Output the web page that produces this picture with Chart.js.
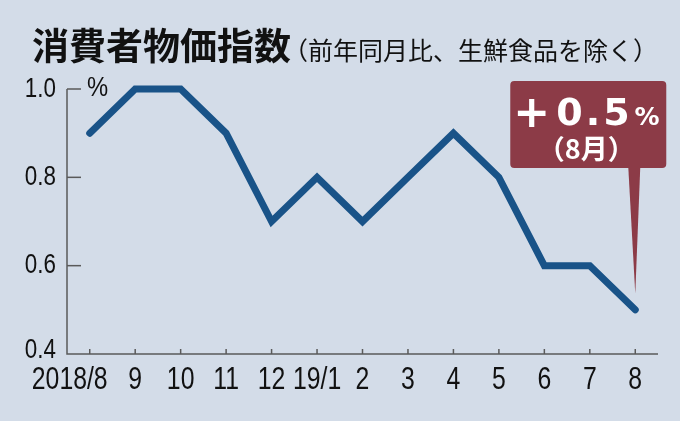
<!DOCTYPE html>
<html>
<head>
<meta charset="utf-8">
<script src="https://cdn.jsdelivr.net/npm/chart.js@4"></script>
<style>
  html, body { margin: 0; padding: 0; background: #d3dce8; }
  #wrap { width: 680px; height: 421px; position: relative; }
</style>
</head>
<body>
<div id="wrap"><canvas id="cpiChart"></canvas></div>
<script>
// データ
const months = ['2018/8', '9', '10', '11', '12', '19/1', '2', '3', '4', '5', '6', '7', '8'];
const cpiValues = [0.9, 1.0, 1.0, 0.9, 0.7, 0.8, 0.7, 0.8, 0.9, 0.8, 0.6, 0.6, 0.5];
const yTickValues = [0.4, 0.6, 0.8, 1.0];
const titleMain = '消費者物価指数';
const titleSub = '（前年同月比、生鮮食品を除く）';
const calloutSign = '+';
const calloutValue = '0.5';
const calloutMonth = '（8月）';

const AXIS_COLOR = '#5a5a5a';
const SANS = '"Liberation Sans", Arial, sans-serif';
const JP = '"Noto Sans CJK JP", sans-serif';

// 横に詰めた文字(長体)
function condensedText(ctx, text, x, y, align, sx) {
  ctx.save();
  ctx.translate(x, y);
  ctx.scale(sx, 1);
  ctx.textAlign = align;
  ctx.fillText(text, 0, 0);
  ctx.restore();
}

// 軸・目盛りは自前で描く(内向きの目盛り)
const axisPlugin = {
  id: 'axisPlugin',
  beforeDatasetsDraw(chart) {
    const { ctx, chartArea, scales: { x, y } } = chart;
    ctx.save();
    ctx.strokeStyle = AXIS_COLOR;
    ctx.lineWidth = 1.5;
    ctx.beginPath();
    ctx.moveTo(chartArea.left, y.getPixelForValue(yTickValues[yTickValues.length - 1]));
    ctx.lineTo(chartArea.left, chartArea.bottom);
    ctx.lineTo(chartArea.right, chartArea.bottom);
    ctx.stroke();
    // y目盛り
    ctx.fillStyle = '#111';
    ctx.font = '28px ' + SANS;
    ctx.textBaseline = 'middle';
    yTickValues.forEach((v, i) => {
      const py = y.getPixelForValue(v);
      if (i > 0) {
        ctx.beginPath();
        ctx.moveTo(chartArea.left, py);
        ctx.lineTo(chartArea.left + 14, py);
        ctx.stroke();
      }
      condensedText(ctx, v.toFixed(1), chartArea.left - 11, i === 0 ? py - 4 : py, 'right', 0.8);
    });
    condensedText(ctx, '%', chartArea.left + 20, y.getPixelForValue(1.0) - 1, 'left', 0.85);
    // x目盛り
    ctx.font = '31px ' + SANS;
    ctx.textBaseline = 'top';
    months.forEach((m, i) => {
      const px = x.getPixelForValue(i);
      ctx.beginPath();
      ctx.moveTo(px, chartArea.bottom);
      ctx.lineTo(px, chartArea.bottom - 5);
      ctx.stroke();
      const tx = i === 0 ? px - 20 : px;
      condensedText(ctx, m, tx, chartArea.bottom + 11, 'center', 0.8);
    });
    ctx.restore();
  },
  afterDraw(chart) {
    const { ctx, chartArea } = chart;
    ctx.save();
    // タイトル
    ctx.fillStyle = '#111';
    ctx.textBaseline = 'middle';
    ctx.textAlign = 'left';
    ctx.font = '700 37px ' + JP;
    ctx.fillText(titleMain, 32, 46);
    ctx.font = '400 25px ' + JP;
    ctx.fillText(titleSub, 283, 50);

    // 吹き出し
    const meta = chart.getDatasetMeta(0);
    const last = meta.data[meta.data.length - 1];
    const right = last.x + 31, left = right - 156;
    const top = chartArea.top - 8, bottom = top + 87;
    const tipY = last.y - 16;
    ctx.fillStyle = '#8c3b47';
    ctx.beginPath();
    ctx.roundRect(left, top, right - left, bottom - top, 4);
    ctx.fill();
    ctx.beginPath();
    ctx.moveTo(last.x - 7, bottom - 1);
    ctx.lineTo(last.x + 5, bottom - 1);
    ctx.lineTo(last.x, tipY);
    ctx.closePath();
    ctx.fill();

    ctx.fillStyle = '#fff';
    ctx.textBaseline = 'alphabetic';
    ctx.textAlign = 'left';
    const base = top + 44;
    ctx.font = '700 44px "DejaVu Sans", sans-serif';
    ctx.fillText(calloutSign, left + 3, base + 2);
    ctx.font = '700 38px "DejaVu Sans", sans-serif';
    ctx.letterSpacing = '3px';
    ctx.fillText(calloutValue, left + 46, base);
    const w = ctx.measureText(calloutValue).width;
    ctx.letterSpacing = '0px';
    ctx.font = '700 25px "DejaVu Sans", sans-serif';
    ctx.fillText('%', left + 48 + w, base);
    ctx.textAlign = 'center';
    ctx.font = '700 27px ' + JP;
    ctx.fillText(calloutMonth, (left + right) / 2 - 2, top + 78);
    ctx.restore();
  }
};

const ctx = document.getElementById('cpiChart').getContext('2d');
new Chart(ctx, {
  type: 'line',
  data: {
    labels: months,
    datasets: [{
      data: cpiValues,
      borderColor: '#195388',
      borderWidth: 7,
      borderCapStyle: 'round',
      borderJoinStyle: 'miter',
      pointRadius: 0,
      tension: 0,
      clip: false
    }]
  },
  options: {
    responsive: true,
    maintainAspectRatio: false,
    animation: false,
    layout: { padding: { left: 67, right: 22, top: 89, bottom: 67 } },
    plugins: { legend: { display: false }, tooltip: { enabled: false } },
    scales: {
      x: { display: false, offset: true },
      y: { display: false, min: 0.4, max: 1.0 }
    }
  },
  plugins: [axisPlugin]
});
</script>
</body>
</html>
